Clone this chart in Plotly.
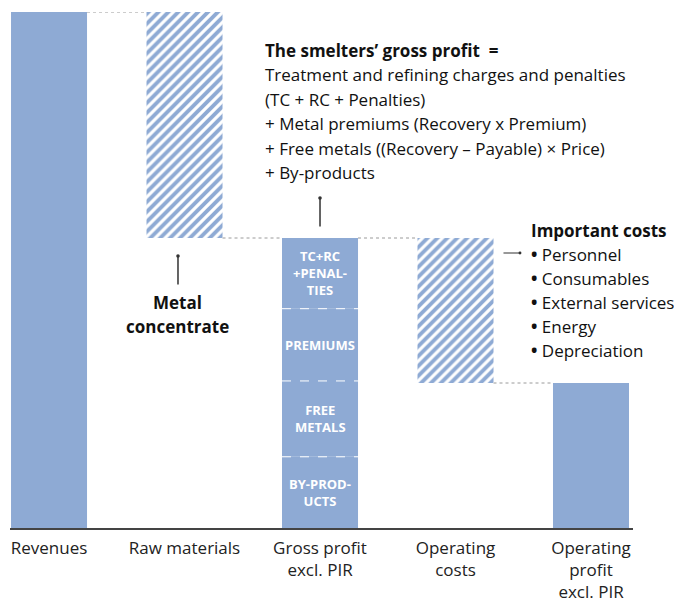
"""Smelter value chain: from revenues to operating profit."""

import plotly.graph_objects as go

categories = [
    "Revenues",
    "Raw materials",
    "Gross profit<br>excl. PIR",
    "Operating<br>costs",
    "Operating<br>profit<br>excl. PIR",
]
revenues = 100.0
raw_materials = 43.8
# gross profit components, bottom to top
gross_labels = ["BY-PROD-<br>UCTS", "FREE<br>METALS", "PREMIUMS", "TC+RC<br>+PENAL-<br>TIES"]
gross_values = [13.8, 14.7, 14.0, 13.7]
operating_costs = 28.1

formula_lines = [
    "<b>The smelters’ gross profit  =</b>",
    "Treatment and refining charges and penalties",
    "(TC + RC + Penalties)",
    "+ Metal premiums (Recovery x Premium)",
    "+ Free metals ((Recovery – Payable) × Price)",
    "+ By-products",
]
cost_title = "Important costs"
cost_items = ["Personnel", "Consumables", "External services", "Energy", "Depreciation"]

BLUE = "#8eaad4"
FONT = "Open Sans"
W = 0.561  # bar width
OFF = 8  # page margin around the plot div


def ypx(px):
    """Convert a pixel row of the screenshot to data units."""
    return (528 - px) / 516 * 100


def xpx(px):
    return (px - 10) / 135.5 - 0.288


gross_profit = sum(gross_values)
operating_profit = gross_profit - operating_costs
xs = list(range(len(categories)))

hatch = dict(shape="/", fgcolor=BLUE, bgcolor="white", size=7, solidity=0.55, fillmode="replace")

fig = go.Figure()
fig.add_trace(go.Bar(x=[xs[0]], y=[revenues], width=W, marker=dict(color=BLUE, line_width=0)))
fig.add_trace(
    go.Bar(
        x=[xs[1]], y=[raw_materials], base=[revenues - raw_materials], width=W,
        marker=dict(color=BLUE, line_width=0, pattern=hatch),
    )
)
base = 0.0
for v in gross_values:
    fig.add_trace(go.Bar(x=[xs[2]], y=[v], base=[base], width=W, marker=dict(color=BLUE, line_width=0)))
    base += v
fig.add_trace(
    go.Bar(
        x=[xs[3]], y=[operating_costs], base=[gross_profit - operating_costs], width=W,
        marker=dict(color=BLUE, line_width=0, pattern=hatch),
    )
)
fig.add_trace(go.Bar(x=[xs[4]], y=[operating_profit], width=W, marker=dict(color=BLUE, line_width=0)))

# dotted connectors between bars
levels = [revenues, revenues - raw_materials, gross_profit, operating_profit]
for i, lvl in enumerate(levels):
    fig.add_shape(
        type="line", x0=xs[i] + W / 2, x1=xs[i + 1] - W / 2, y0=lvl, y1=lvl,
        line=dict(color="#9a9a9a", width=1, dash="dot"),
    )

# white dashed separators and labels inside the gross profit bar
base = 0.0
for i, (lab, v) in enumerate(zip(gross_labels, gross_values)):
    if i > 0:
        fig.add_shape(
            type="line", x0=xs[2] - W / 2, x1=xs[2] + W / 2, y0=base, y1=base,
            line=dict(color="white", width=1, dash="dash"),
        )
    fig.add_annotation(
        x=xs[2], y=base + v / 2, text=f"<b>{lab}</b>", showarrow=False,
        font=dict(family=FONT, size=13, color="white"),
    )
    base += v

# pointer lines
fig.add_annotation(
    x=xs[2], y=ypx(198), ax=xs[2], ay=ypx(228), axref="x", ayref="y",
    text="", showarrow=True, arrowhead=6, arrowsize=0.6, arrowwidth=1.5, arrowcolor="#333",
)
fig.add_annotation(
    x=xpx(178), y=ypx(256), ax=xpx(178), ay=ypx(286), axref="x", ayref="y",
    text="", showarrow=True, arrowhead=6, arrowsize=0.6, arrowwidth=1.5, arrowcolor="#333",
)
fig.add_annotation(
    x=xpx(520), y=ypx(253), ax=xpx(502), ay=ypx(253), axref="x", ayref="y",
    text="", showarrow=True, arrowhead=6, arrowsize=0.6, arrowwidth=1.2, arrowcolor="#333",
)

text_font = dict(family=FONT, size=17, color="#111")
for k, line in enumerate(formula_lines):
    fig.add_annotation(
        x=xpx(263), y=ypx(50 + 24.5 * k), text=line, showarrow=False,
        xanchor="left", yanchor="middle", font=text_font,
    )
fig.add_annotation(
    x=xpx(529), y=ypx(230), text=f"<b>{cost_title}</b>", showarrow=False,
    xanchor="left", yanchor="middle", font=text_font,
)
for k, item in enumerate(cost_items):
    fig.add_annotation(
        x=xpx(529), y=ypx(254 + 24 * k), text=f"<b>•</b> {item}", showarrow=False,
        xanchor="left", yanchor="middle", font=text_font,
    )
for k, line in enumerate(["<b>Metal</b>", "<b>concentrate</b>"]):
    fig.add_annotation(
        x=xpx(178), y=ypx(302 + 24 * k), text=line, showarrow=False,
        xanchor="center", yanchor="middle", font=text_font,
    )

fig.update_layout(
    width=682 - OFF,
    height=606 - OFF,
    margin=dict(l=10 - OFF, r=49, t=12 - OFF, b=78),
    barmode="overlay",
    showlegend=False,
    plot_bgcolor="white",
    paper_bgcolor="white",
    font=dict(family=FONT, size=17, color="#222"),
)
fig.update_xaxes(
    range=[-0.288, 4.31], tickvals=xs, ticktext=categories, showgrid=False,
    showline=True, linecolor="#444", linewidth=1.5, ticks="", zeroline=False,
    ticklabelstandoff=4,
    tickfont=dict(family=FONT, size=17, color="#222"),
)
fig.update_yaxes(range=[0, 100], visible=False)

fig.write_html("out.html")
